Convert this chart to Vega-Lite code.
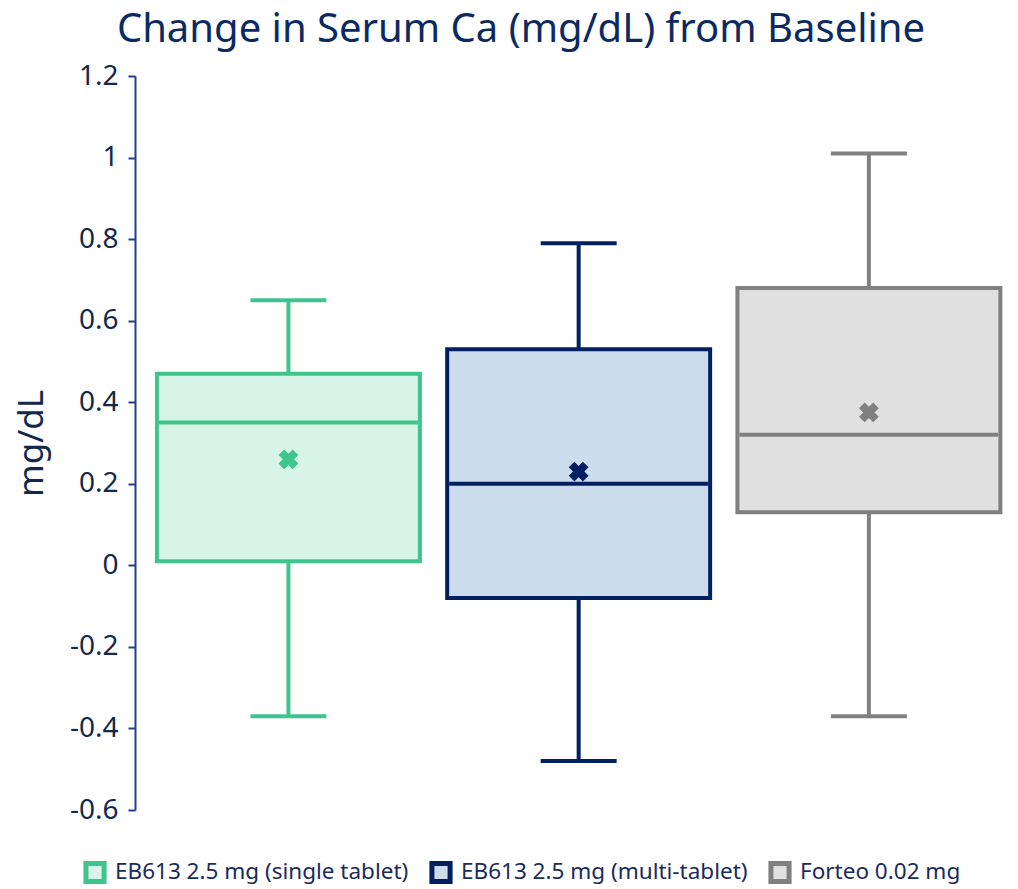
{
  "$schema": "https://vega.github.io/schema/vega-lite/v6.json",
  "width": 880,
  "height": 734,
  "autosize": {"type": "none"},
  "padding": {"left": 135, "top": 76, "right": 3, "bottom": 79},
  "background": "white",
  "title": {"text": "Change in Serum Ca (mg/dL) from Baseline", "fontSize": 40, "font": "Noto Sans", "fontWeight": "normal", "color": "#0c2a62", "anchor": "middle", "frame": "group", "dx": -54, "offset": 12},
  "data": {"values": [
    {"group": "EB613 2.5 mg (single tablet)", "min": -0.37, "q1": 0.01, "median": 0.35, "q3": 0.47, "max": 0.65, "mean": 0.26},
    {"group": "EB613 2.5 mg (multi-tablet)", "min": -0.48, "q1": -0.08, "median": 0.2, "q3": 0.53, "max": 0.79, "mean": 0.23},
    {"group": "Forteo 0.02 mg", "min": -0.37, "q1": 0.13, "median": 0.32, "q3": 0.68, "max": 1.01, "mean": 0.375}
  ]},
  "encoding": {
    "x": {"field": "group", "type": "nominal", "sort": null, "scale": {"paddingInner": 0.094, "paddingOuter": 0.063, "align": 0.6}, "axis": null}
  },
  "layer": [
    {
      "mark": {"type": "rule", "strokeWidth": 4},
      "encoding": {
        "y": {"field": "min", "type": "quantitative", "scale": {"domain": [-0.6, 1.2], "nice": false, "zero": false},
          "axis": {"title": "mg/dL", "values": [-0.6, -0.4, -0.2, 0, 0.2, 0.4, 0.6, 0.8, 1, 1.2], "labelExpr": "replace(format(datum.value,'.1~f'),'\u2212','-')", "grid": false, "domainColor": "#1f3f8a", "domainWidth": 2, "tickColor": "#1f3f8a", "tickWidth": 2, "tickSize": 7, "labelFontSize": 28, "labelColor": "#13294b", "labelFont": "Noto Sans", "labelPadding": 10, "titleFontSize": 35, "titleFont": "Noto Sans", "titleFontWeight": "normal", "titleColor": "#13294b", "titlePadding": 20}},
        "y2": {"field": "max"},
        "color": {"field": "group", "type": "nominal", "sort": null, "scale": {"range": ["#3ec58e", "#002060", "#808080"]}, "legend": null}
      }
    },
    {
      "mark": {"type": "tick", "size": 76, "thickness": 4, "orient": "horizontal", "opacity": 1},
      "encoding": {
        "y": {"field": "min", "type": "quantitative", "axis": {"title": "mg/dL"}},
        "color": {"field": "group", "type": "nominal", "sort": null, "legend": null}
      }
    },
    {
      "mark": {"type": "tick", "size": 76, "thickness": 4, "orient": "horizontal", "opacity": 1},
      "encoding": {
        "y": {"field": "max", "type": "quantitative", "axis": {"title": "mg/dL"}},
        "color": {"field": "group", "type": "nominal", "sort": null, "legend": null}
      }
    },
    {
      "mark": {"type": "bar", "strokeWidth": 4},
      "encoding": {
        "y": {"field": "q1", "type": "quantitative", "axis": {"title": "mg/dL"}},
        "y2": {"field": "q3"},
        "fill": {"field": "group", "type": "nominal", "sort": null, "scale": {"range": ["#d8f3e7", "#cddcec", "#e0e0e0"]},
          "legend": {"title": null, "orient": "none", "legendX": -52, "legendY": 784, "direction": "horizontal", "symbolType": "square", "symbolSize": 330, "symbolStrokeWidth": 5, "labelFontSize": 22.5, "labelFont": "Noto Sans", "labelColor": "#1a2b5c", "labelOffset": 8, "labelLimit": 0, "columnPadding": 12}},
        "stroke": {"field": "group", "type": "nominal", "sort": null, "scale": {"range": ["#3ec58e", "#002060", "#808080"]},
          "legend": {"title": null, "orient": "none", "legendX": -52, "legendY": 784, "direction": "horizontal", "symbolType": "square", "symbolSize": 330, "symbolStrokeWidth": 5, "labelFontSize": 22.5, "labelFont": "Noto Sans", "labelColor": "#1a2b5c", "labelOffset": 8, "labelLimit": 0, "columnPadding": 12}}
      }
    },
    {
      "mark": {"type": "tick", "size": 259, "thickness": 4, "orient": "horizontal", "opacity": 1},
      "encoding": {
        "y": {"field": "median", "type": "quantitative", "axis": {"title": "mg/dL"}},
        "color": {"field": "group", "type": "nominal", "sort": null, "legend": null}
      }
    },
    {
      "mark": {"type": "point", "shape": "cross", "angle": 45, "filled": true, "size": 400, "opacity": 1},
      "encoding": {
        "y": {"field": "mean", "type": "quantitative", "axis": {"title": "mg/dL"}},
        "color": {"field": "group", "type": "nominal", "sort": null, "legend": null}
      }
    },
    {
      "mark": {"type": "rule", "strokeWidth": 2.5, "strokeDash": [10, 7], "color": "#1f4e79"},
      "encoding": {
        "y": {"datum": 0, "type": "quantitative", "axis": {"title": "mg/dL"}}
      }
    }
  ],
  "config": {"view": {"stroke": null}}
}
